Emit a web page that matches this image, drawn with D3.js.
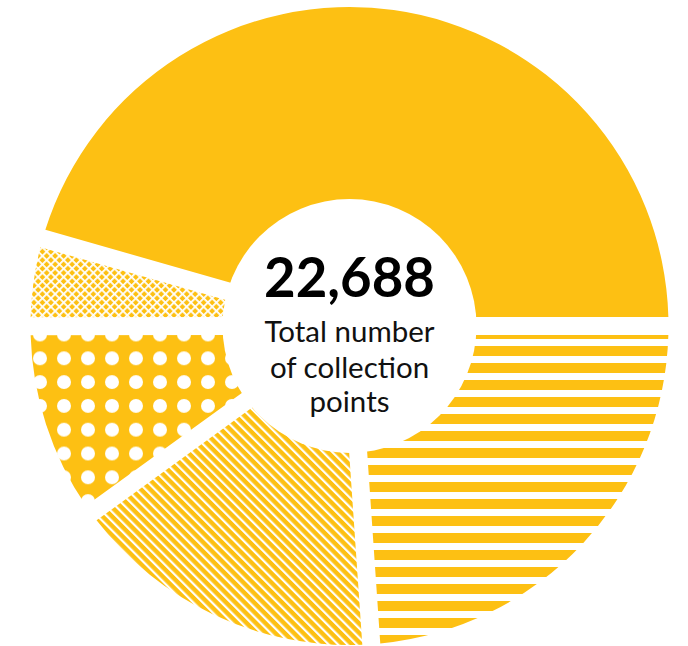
<!DOCTYPE html>
<html>
<head>
<meta charset="utf-8">
<script src="https://cdn.jsdelivr.net/npm/d3@7"></script>
<style>
  html, body { margin: 0; padding: 0; background: #ffffff; }
  svg { display: block; }
</style>
</head>
<body>
<svg id="chart" width="688" height="646"></svg>
<script>
// ---- data ----
const categories = ["Segment A", "Segment B", "Segment C", "Segment D", "Segment E"];
const values = [10340, 5425, 3655, 2262, 1006];
const fills = ["solid", "hstripes", "diagonal", "dots", "crosshatch"];
const totalLabel = "22,688";
const centerLines = ["Total number", "of collection", "points"];

// ---- layout ----
const W = 688, H = 646;
const cx = 349.5, cy = 326;
const rOuter = 319, rInner = 100, rHole = 127, gap = 18;
const gold = "#FDC013";

const svg = d3.select("#chart");
const defs = svg.append("defs");
const toPage = `translate(${-cx},${-cy})`;

// horizontal stripes
const ph = defs.append("pattern").attr("id", "hstripes")
  .attr("patternUnits", "userSpaceOnUse").attr("width", 20).attr("height", 17)
  .attr("patternTransform", toPage);
ph.append("rect").attr("width", 20).attr("height", 17).attr("fill", "#fff");
ph.append("rect").attr("y", 6).attr("width", 20).attr("height", 10).attr("fill", gold);

// diagonal stripes (\)
const pdp = 6.6;
const pd = defs.append("pattern").attr("id", "diagonal")
  .attr("patternUnits", "userSpaceOnUse").attr("width", pdp).attr("height", 20)
  .attr("patternTransform", toPage + " rotate(-45)");
pd.append("rect").attr("width", pdp).attr("height", 20).attr("fill", gold);
pd.append("rect").attr("width", 2.2).attr("height", 20).attr("fill", "#fff");

// dots
const pdt = defs.append("pattern").attr("id", "dots")
  .attr("patternUnits", "userSpaceOnUse").attr("x", 28).attr("y", 346.4)
  .attr("width", 24).attr("height", 23.8)
  .attr("patternTransform", toPage);
pdt.append("rect").attr("width", 24).attr("height", 23.8).attr("fill", gold);
pdt.append("circle").attr("cx", 12).attr("cy", 11.9).attr("r", 7).attr("fill", "#fff");

// crosshatch (diamonds)
const pcp = 6.0;
const pc = defs.append("pattern").attr("id", "crosshatch")
  .attr("patternUnits", "userSpaceOnUse").attr("width", pcp).attr("height", pcp)
  .attr("patternTransform", toPage + " rotate(45)");
pc.append("rect").attr("width", pcp).attr("height", pcp).attr("fill", gold);
pc.append("rect").attr("width", 1.8).attr("height", pcp).attr("fill", "#fff");
pc.append("rect").attr("width", pcp).attr("height", 1.8).attr("fill", "#fff");

// ---- pie ----
const total = d3.sum(values);
const a0 = Math.PI / 2 - 2 * Math.PI * values[0] / total;
const data = categories.map((c, i) => ({ category: c, value: values[i], fill: fills[i] }));

const pie = d3.pie().sort(null).value(d => d.value)
  .startAngle(a0).endAngle(a0 + 2 * Math.PI);
const arc = d3.arc().innerRadius(rInner).outerRadius(rOuter)
  .padAngle(gap / rOuter).padRadius(rOuter);

const g = svg.append("g").attr("transform", `translate(${cx},${cy})`);
g.selectAll("path").data(pie(data)).join("path")
  .attr("d", arc)
  .attr("fill", d => d.data.fill === "solid" ? gold : `url(#${d.data.fill})`);

g.append("circle").attr("r", rHole).attr("fill", "#fff");

// ---- center text ----
const font = "Lato, 'Open Sans', 'DejaVu Sans', sans-serif";
g.append("text").attr("x", 0).attr("y", 297 - cy)
  .attr("text-anchor", "middle").attr("font-family", font)
  .attr("font-weight", "bold").attr("font-size", 54.5).attr("fill", "#000")
  .text(totalLabel);

const baselines = [342, 378, 412];
centerLines.forEach((t, i) => {
  g.append("text").attr("x", 0).attr("y", baselines[i] - cy)
    .attr("text-anchor", "middle").attr("font-family", font)
    .attr("font-size", 29.5).attr("fill", "#111")
    .text(t);
});
</script>
</body>
</html>
